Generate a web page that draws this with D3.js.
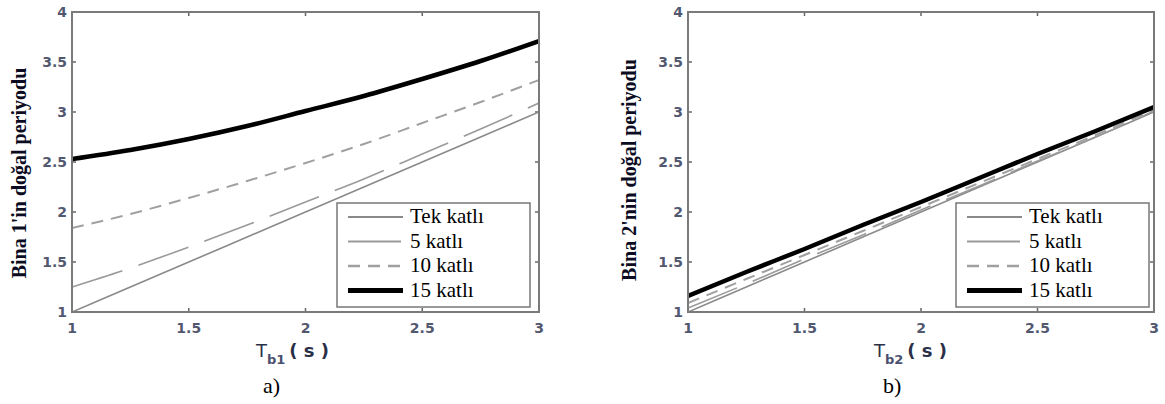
<!DOCTYPE html>
<html>
<head>
<meta charset="utf-8">
<script src="https://cdn.jsdelivr.net/npm/d3@7"></script>
<style>
  body { margin: 0; background: #fff; }
  svg { display: block; }
</style>
</head>
<body>
<svg id="chart"></svg>
<script>
// data
const tValues = [1, 1.25, 1.5, 1.75, 2, 2.25, 2.5, 2.75, 3];
const seriesNames = ['Tek katlı', '5 katlı', '10 katlı', '15 katlı'];

// panel a) Bina 1
const a_tek = [1.00, 1.25, 1.50, 1.75, 2.00, 2.25, 2.50, 2.75, 3.00];
const a_kat5 = [1.25, 1.44, 1.65, 1.87, 2.10, 2.33, 2.58, 2.83, 3.09];
const a_kat10 = [1.84, 1.98, 2.14, 2.31, 2.49, 2.68, 2.89, 3.10, 3.32];
const a_kat15 = [2.53, 2.62, 2.73, 2.86, 3.01, 3.16, 3.33, 3.51, 3.71];

// panel b) Bina 2
const b_tek = [1.00, 1.25, 1.50, 1.75, 2.00, 2.25, 2.50, 2.75, 3.00];
const b_kat5 = [1.04, 1.28, 1.53, 1.77, 2.02, 2.26, 2.51, 2.75, 3.01];
const b_kat10 = [1.09, 1.33, 1.57, 1.81, 2.05, 2.29, 2.53, 2.77, 3.02];
const b_kat15 = [1.16, 1.40, 1.63, 1.87, 2.10, 2.34, 2.58, 2.81, 3.05];

const xTicks = [1, 1.5, 2, 2.5, 3];
const yTicks = [1, 1.5, 2, 2.5, 3, 3.5, 4];

const width = 1165;
const height = 404;

const svg = d3.select('#chart')
  .attr('width', width)
  .attr('height', height);

// line looks, same order as seriesNames
const styles = [
  { stroke: '#8a8a8a', width: 1.6, dash: null },
  { stroke: '#9a9a9a', width: 1.6, dash: '53,17' },
  { stroke: '#a0a0a0', width: 2, dash: '12,8' },
  { stroke: '#000', width: 4.5, dash: null },
];

const tickColor = '#525870';

function drawPanel(p) {
  const x = d3.scaleLinear().domain([1, 3]).range([p.left, p.right]);
  const y = d3.scaleLinear().domain([1, 4]).range([312, 12]);

  const g = svg.append('g');

  // tick labels
  g.selectAll('.ytl')
    .data(yTicks)
    .join('text')
    .attr('x', p.left - 5)
    .attr('y', d => y(d) + 5)
    .attr('text-anchor', 'end')
    .attr('font-family', 'DejaVu Sans, sans-serif')
    .attr('font-weight', 'bold')
    .attr('font-size', 14)
    .attr('fill', tickColor)
    .text(d => d);

  g.selectAll('.xtl')
    .data(xTicks)
    .join('text')
    .attr('x', d => x(d))
    .attr('y', 333)
    .attr('text-anchor', 'middle')
    .attr('font-family', 'DejaVu Sans, sans-serif')
    .attr('font-weight', 'bold')
    .attr('font-size', 14)
    .attr('fill', tickColor)
    .text(d => d);

  // inward ticks on all four sides
  const tk = g.append('g').attr('stroke', '#666').attr('stroke-width', 1.5);
  xTicks.forEach(d => {
    tk.append('line').attr('x1', x(d)).attr('x2', x(d)).attr('y1', y(1)).attr('y2', y(1) - 4);
    tk.append('line').attr('x1', x(d)).attr('x2', x(d)).attr('y1', y(4)).attr('y2', y(4) + 4);
  });
  yTicks.forEach(d => {
    tk.append('line').attr('x1', p.left).attr('x2', p.left + 4).attr('y1', y(d)).attr('y2', y(d));
    tk.append('line').attr('x1', p.right).attr('x2', p.right - 4).attr('y1', y(d)).attr('y2', y(d));
  });

  // curves
  const line = d3.line()
    .x((d, i) => x(tValues[i]))
    .y(d => y(d))
    .curve(d3.curveMonotoneX);

  const clip = 'clip' + p.id;
  svg.append('clipPath').attr('id', clip)
    .append('rect')
    .attr('x', p.left).attr('y', y(4))
    .attr('width', p.right - p.left).attr('height', y(1) - y(4));

  g.append('g').attr('clip-path', `url(#${clip})`)
    .selectAll('path')
    .data(p.series)
    .join('path')
    .attr('d', d => line(d))
    .attr('fill', 'none')
    .attr('stroke', (d, i) => styles[i].stroke)
    .attr('stroke-width', (d, i) => styles[i].width)
    .attr('stroke-dasharray', (d, i) => styles[i].dash);

  // frame
  g.append('rect')
    .attr('x', p.left).attr('y', y(4))
    .attr('width', p.right - p.left).attr('height', y(1) - y(4))
    .attr('fill', 'none')
    .attr('stroke', '#7a7a7a')
    .attr('stroke-width', 2);

  // legend
  const lg = g.append('g').attr('transform', `translate(${p.legendX},203)`);
  lg.append('rect')
    .attr('width', 193).attr('height', 104)
    .attr('fill', '#fff')
    .attr('stroke', '#777')
    .attr('stroke-width', 1.5);
  seriesNames.forEach((name, i) => {
    const yy = 14 + i * 24.5;
    lg.append('line')
      .attr('x1', 11).attr('x2', 66)
      .attr('y1', yy).attr('y2', yy)
      .attr('stroke', styles[i].stroke)
      .attr('stroke-width', i === 3 ? 5 : styles[i].width + 0.6)
      .attr('stroke-dasharray', styles[i].dash);
    lg.append('text')
      .attr('x', 73).attr('y', yy + 6)
      .attr('font-family', 'Liberation Serif, serif')
      .attr('font-size', 21)
      .attr('fill', '#000')
      .text(name);
  });

  // y axis title
  svg.append('text')
    .attr('transform', `translate(${p.titleX},${p.titleY}) rotate(-90)`)
    .attr('text-anchor', 'middle')
    .attr('font-family', 'Liberation Serif, serif')
    .attr('font-weight', 'bold')
    .attr('font-size', 20)
    .attr('fill', '#0b0b22')
    .text(p.yTitle);

  // x axis title: T with subscript
  const xt = svg.append('text')
    .attr('x', p.xTitleX)
    .attr('y', 357)
    .attr('font-family', 'DejaVu Sans, sans-serif')
    .attr('font-size', 18)
    .attr('fill', '#2a2f48');
  xt.append('tspan').text('T');
  xt.append('tspan').attr('dy', 7).attr('font-size', 13).attr('font-weight', 'bold').attr('fill', '#4a5070').text(p.sub);
  xt.append('tspan').attr('dy', -7).attr('dx', 4).attr('font-weight', 'bold').text('(  s  )');

  svg.append('text')
    .attr('x', p.capX)
    .attr('y', 393)
    .attr('font-family', 'Liberation Serif, serif')
    .attr('font-size', 22)
    .attr('fill', '#000')
    .text(p.caption);
}

drawPanel({
  id: 'a', left: 72, right: 539, legendX: 337,
  series: [a_tek, a_kat5, a_kat10, a_kat15],
  yTitle: "Bina 1'in doğal periyodu", titleX: 26, titleY: 173,
  sub: 'b1', xTitleX: 256, caption: 'a)', capX: 263,
});

drawPanel({
  id: 'b', left: 688, right: 1154, legendX: 956,
  series: [b_tek, b_kat5, b_kat10, b_kat15],
  yTitle: "Bina 2'nin doğal periyodu", titleX: 636, titleY: 170,
  sub: 'b2', xTitleX: 874, caption: 'b)', capX: 883,
});
</script>
</body>
</html>
